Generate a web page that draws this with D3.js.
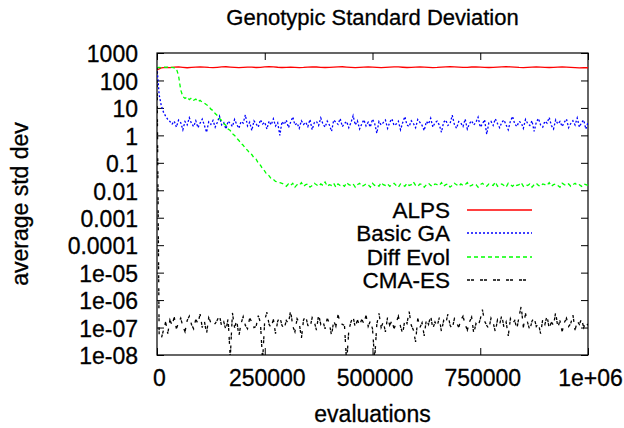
<!DOCTYPE html>
<meta charset="utf-8">
<style>
  body {
    margin: 0;
    background: #fff;
  }
  text {
    font-family: "Liberation Sans", Arial, sans-serif;
    fill: #000;
    stroke: #000;
    stroke-width: 0.3px;
  }
</style>
<body>
  <script src="https://d3js.org/d3.v7.min.js"></script>
  <div id="chart"></div>
  <script>
    // values, one per sample (equal spacing over 0..1e6 evaluations)
    const alps = [
      240, 285, 300, 295, 305, 310, 300, 290, 298, 305,
      312, 308, 300, 295, 302, 310, 315, 306, 298, 292,
      300, 308, 304, 296, 300, 310, 318, 312, 303, 297,
      301, 306, 300, 294, 299, 307, 313, 309, 302, 296,
      300, 305, 311, 316, 308, 300, 293, 298, 304, 309,
      305, 299, 295, 301, 308, 314, 310, 303, 297, 300,
      306, 312, 307, 300, 294, 298, 305, 311, 316, 312,
      304, 298, 302, 309, 313, 306, 300, 296, 301, 307,
      312, 318, 314, 306, 299, 295, 300, 306, 311, 308,
      302, 296, 300, 305, 310, 306, 298, 292, 288, 295,
      290
    ];

    const basicGA = [
      300, 30, 12, 7, 5, 3.8, 3.2,
      2.6, 3.3, 2.0, 3.6, 2.9, 1.6, 3.2, 2.4, 4.4, 2.7,
      2.1, 3.4, 1.9, 2.8, 3.9, 2.3, 1.3, 3.1, 2.5, 3.5,
      2.0, 3.0, 5.0, 2.4, 2.9, 1.7, 3.3, 2.7, 2.1, 3.8,
      2.5, 1.8, 3.2, 2.8, 5.6, 2.2, 3.0, 1.5, 3.4, 2.6,
      2.0, 3.7, 2.6, 3.0, 1.7, 3.3, 2.4, 4.0, 2.2, 2.9,
      1.0, 3.2, 2.5, 3.6, 1.9, 3.0, 4.7, 2.4, 2.8, 1.8,
      3.4, 2.5, 3.0, 2.1, 3.8, 1.6, 2.9, 3.2, 2.3, 4.3,
      2.6, 2.0, 3.3, 2.4, 1.4, 3.6, 3.0, 2.5, 4.1, 2.1,
      2.7, 3.2, 1.9, 2.9, 5.2, 2.4, 3.4, 1.7, 2.6, 3.7,
      2.2, 3.0, 2.0, 3.9, 2.7, 1.2, 3.2, 2.4, 2.9, 3.6,
      1.8, 3.0, 4.0, 2.3, 2.6, 3.3, 1.6, 2.9, 4.8, 2.4,
      2.1, 3.4, 2.7, 1.9, 3.8, 3.0, 2.3, 1.5, 3.2, 2.6,
      4.2, 2.0, 2.9, 3.3, 2.4, 1.3, 3.0, 3.6, 2.3, 2.7,
      5.4, 2.5, 1.8, 3.2, 2.8, 2.1, 3.9, 1.7, 2.7, 3.4,
      2.4, 3.0, 4.6, 2.0, 2.6, 3.7, 1.1, 2.9, 3.2, 2.3,
      4.0, 2.7, 1.9, 3.0, 3.6, 2.4, 1.6, 3.3, 4.9, 2.6,
      2.1, 3.2, 2.9, 1.8, 3.8, 2.7, 2.3, 3.4, 1.4, 3.0,
      4.1, 2.4, 2.0, 3.3, 2.8, 4.5, 2.3, 1.7, 3.7, 2.6,
      3.2, 2.1, 3.0, 3.9, 1.9, 2.7, 3.4, 2.4, 4.3, 2.0,
      2.9, 3.6, 1.7, 3.0
    ];

    const diffEvol = [
      290, 300, 295, 305, 298, 302, 296, 300, 288, 270,
      150, 45, 26, 22, 25, 20, 23, 19, 21, 17,
      19, 16, 15, 13, 11.5, 9, 8, 6.2, 5.3, 4.1,
      3.5, 2.7, 2.3, 1.7, 1.5, 1.15, 1.0, 0.78, 0.65, 0.5,
      0.44, 0.33, 0.29, 0.22, 0.2, 0.15, 0.135, 0.098, 0.082, 0.06,
      0.05, 0.037, 0.034, 0.026, 0.025, 0.021, 0.02, 0.019, 0.018,
      0.016, 0.014, 0.017, 0.015, 0.018, 0.013, 0.016, 0.015, 0.019, 0.014,
      0.016, 0.017, 0.013, 0.015, 0.018, 0.016, 0.014, 0.017, 0.015, 0.02,
      0.014, 0.016, 0.015, 0.018, 0.013, 0.017, 0.015, 0.016, 0.014, 0.019,
      0.016, 0.015, 0.017, 0.013, 0.016, 0.018, 0.014, 0.015, 0.017, 0.016,
      0.013, 0.018, 0.015, 0.016, 0.014, 0.019, 0.016, 0.015, 0.017, 0.014,
      0.016, 0.018, 0.015, 0.013, 0.017, 0.016, 0.014, 0.018, 0.015, 0.016,
      0.02, 0.015, 0.014, 0.017, 0.016, 0.013, 0.016, 0.018, 0.015, 0.014,
      0.017, 0.016, 0.015, 0.019, 0.014, 0.016, 0.017, 0.013, 0.015, 0.018,
      0.016, 0.014, 0.017, 0.015, 0.016, 0.019, 0.014, 0.015, 0.017, 0.016,
      0.013, 0.016, 0.018, 0.015, 0.014, 0.017, 0.016, 0.015, 0.02, 0.014,
      0.016, 0.017, 0.015, 0.013, 0.018, 0.016, 0.014, 0.017, 0.015, 0.016,
      0.019, 0.014, 0.016, 0.015, 0.017, 0.013, 0.016, 0.018, 0.015, 0.014,
      0.017, 0.016, 0.015, 0.019, 0.014, 0.016, 0.017, 0.015, 0.013, 0.018,
      0.016, 0.015, 0.017, 0.014, 0.016, 0.018, 0.015, 0.016, 0.014, 0.017,
      0.016, 0.015
    ];

    const cmaES = [
      300,
      5e-8, 4e-8, 8e-8, 1.6e-7, 6e-8, 1.9e-7, 1.2e-7, 2.4e-7, 9e-8, 1.5e-7,
      2.2e-7, 1.1e-7, 7e-8, 1.8e-7, 2.6e-7, 1.3e-7, 9e-8, 2.0e-7, 1.4e-7, 3.1e-7,
      1.0e-7, 1.7e-7, 6e-8, 2.3e-7, 1.5e-7, 1.2e-7, 1.4e-7, 1.9e-7, 2.8e-7, 1.1e-7,
      1.6e-7, 8e-8, 2.1e-7, 8e-9, 3.4e-7, 1.0e-7, 1.8e-7, 5e-8, 1.4e-7, 2.5e-7,
      1.2e-7, 9e-8, 2.2e-7, 1.6e-7, 1.0e-7, 1.1e-7, 2.7e-7, 1.5e-7, 6e-9, 1.9e-7,
      3.6e-7, 1.3e-7, 1.0e-7, 2.0e-7, 6e-8, 1.7e-7, 2.4e-7, 1.2e-7, 9e-8, 1.8e-7,
      1.4e-7, 4.2e-7, 1.1e-7, 7e-8, 2.1e-7, 1.5e-7, 4e-8, 1.9e-7, 2.6e-7, 1.2e-7,
      1.0e-7, 2.3e-7, 1.6e-7, 8e-8, 3.0e-7, 1.3e-7, 1.7e-7, 9e-8, 2.2e-7, 1.4e-7,
      5e-8, 1.8e-7, 1.1e-7, 2.9e-7, 1.5e-7, 1.3e-7, 1.2e-7, 5e-9, 8e-8, 1.6e-7,
      2.5e-7, 1.0e-7, 1.9e-7, 1.2e-7, 2.0e-7, 1.4e-7, 2.8e-7, 1.1e-7, 1.7e-7, 9e-8,
      7e-9, 1.3e-7, 3.3e-7, 1.0e-7, 1.6e-7, 7e-8, 2.4e-7, 1.2e-7, 1.8e-7, 9e-8,
      1.5e-7, 2.6e-7, 1.1e-7, 6e-8, 1.9e-7, 1.4e-7, 3.8e-7, 1.2e-7, 8e-8, 3e-8,
      2.2e-7, 1.0e-7, 1.5e-7, 5e-8, 2.0e-7, 1.3e-7, 2.7e-7, 9e-8, 1.6e-7, 1.1e-7,
      2.3e-7, 7e-8, 1.8e-7, 1.4e-7, 3.1e-7, 1.2e-7, 9e-8, 2.1e-7, 1.5e-7, 1.0e-7,
      1.9e-7, 2.6e-7, 1.3e-7, 8e-8, 1.6e-7, 2.4e-7, 6e-8, 1.4e-7, 1.1e-7, 2.0e-7,
      4.5e-7, 1.7e-7, 1.2e-7, 9e-8, 2.2e-7, 1.5e-7, 7e-8, 1.9e-7, 1.3e-7, 2.8e-7,
      1.0e-7, 1.6e-7, 5e-8, 2.1e-7, 1.4e-7, 1.8e-7, 9e-8, 2.5e-7, 6e-7, 1.0e-7,
      3.3e-7, 1.5e-7, 8e-8, 1.7e-7, 2.3e-7, 1.1e-7, 1.4e-7, 6e-8, 2.0e-7, 1.3e-7,
      2.7e-7, 9e-8, 1.6e-7, 1.2e-7, 3.6e-7, 1.0e-7, 1.8e-7, 7e-8, 1.5e-7, 2.2e-7,
      1.1e-7, 1.4e-7, 2.9e-7, 8e-8, 1.7e-7, 1.3e-7, 2.1e-7, 1.0e-7, 1.6e-7, 1.2e-7
    ];

    const seriesNames = ["ALPS", "Basic GA", "Diff Evol", "CMA-ES"];

    const xTickValues = [0, 250000, 500000, 750000, 1000000];
    const xTickLabels = ["0", "250000", "500000", "750000", "1e+06"];
    const yTickValues = [1000, 100, 10, 1, 0.1, 0.01, 0.001, 0.0001, 1e-5, 1e-6, 1e-7, 1e-8];
    const yTickLabels = ["1000", "100", "10", "1", "0.1", "0.01", "0.001", "0.0001",
                         "1e-05", "1e-06", "1e-07", "1e-08"];

    const width = 624;
    const height = 428;
    const plot = {left: 157, right: 588, top: 53, bottom: 355};
    const maxEval = 1000000;

    const styles = [
      {color: "#ff0000", dash: null},
      {color: "#0000ff", dash: "2,2"},
      {color: "#00ff00", dash: "4,3"},
      {color: "#000000", dash: "3,1,3,6"}
    ];

    const svg = d3.select("#chart")
      .append("svg")
      .attr("width", width)
      .attr("height", height);

    const x = d3.scaleLinear()
      .domain([0, maxEval])
      .range([plot.left, plot.right]);

    const y = d3.scaleLog()
      .domain([1e-8, 1000])
      .range([plot.bottom, plot.top]);

    svg.append("defs").append("clipPath")
      .attr("id", "clip")
      .append("rect")
      .attr("x", plot.left)
      .attr("y", plot.top)
      .attr("width", plot.right - plot.left)
      .attr("height", plot.bottom - plot.top);

    // axes, ticks drawn inward on all four sides like gnuplot
    const fmtX = d => xTickLabels[xTickValues.indexOf(d)];
    const fmtY = d => yTickLabels[yTickValues.indexOf(d)];

    const axisStyle = g => {
      g.select(".domain").remove();
      g.selectAll("line").attr("stroke", "#000").attr("stroke-width", 1);
      g.selectAll("text").style("font-size", "23px").attr("font-family", null);
    };

    svg.append("g")
      .attr("transform", `translate(0,${plot.bottom})`)
      .call(d3.axisBottom(x).tickValues(xTickValues).tickFormat(fmtX).tickSize(-7).tickPadding(15))
      .call(axisStyle)
      .selectAll("text").attr("dx", "2");

    svg.append("g")
      .attr("transform", `translate(0,${plot.top})`)
      .call(d3.axisTop(x).tickValues(xTickValues).tickFormat("").tickSize(-7))
      .call(axisStyle);

    svg.append("g")
      .attr("transform", `translate(${plot.left},0)`)
      .call(d3.axisLeft(y).tickValues(yTickValues).tickFormat(fmtY).tickSize(-7).tickPadding(19))
      .call(axisStyle)
      .selectAll("text")
      .attr("dy", "0.38em");

    svg.append("g")
      .attr("transform", `translate(${plot.right},0)`)
      .call(d3.axisRight(y).tickValues(yTickValues).tickFormat("").tickSize(-7))
      .call(axisStyle);

    svg.append("rect")
      .attr("x", plot.left)
      .attr("y", plot.top)
      .attr("width", plot.right - plot.left)
      .attr("height", plot.bottom - plot.top)
      .attr("fill", "none")
      .attr("stroke", "#000")
      .attr("stroke-width", 1.2);

    // series
    const allSeries = [alps, basicGA, diffEvol, cmaES];

    const line = d3.line()
      .x(d => x(d[0]))
      .y(d => y(d[1]));

    const lines = svg.append("g").attr("clip-path", "url(#clip)");

    allSeries.forEach((values, k) => {
      const pts = values.map((v, i) => [i * maxEval / (values.length - 1), v]);
      lines.append("path")
        .datum(pts)
        .attr("d", line)
        .attr("fill", "none")
        .attr("stroke", styles[k].color)
        .attr("stroke-width", 1.3)
        .attr("stroke-dasharray", styles[k].dash);
    });

    // legend
    const legend = svg.append("g");
    const legendY = [210, 233, 257, 280];

    seriesNames.forEach((name, k) => {
      legend.append("text")
        .attr("x", 450)
        .attr("y", legendY[k])
        .attr("dy", "0.36em")
        .attr("text-anchor", "end")
        .style("font-size", "22.5px")
        .text(name);
      legend.append("line")
        .attr("x1", 467)
        .attr("x2", 532)
        .attr("y1", legendY[k])
        .attr("y2", legendY[k])
        .attr("stroke", styles[k].color)
        .attr("stroke-width", 1.3)
        .attr("stroke-dasharray", styles[k].dash);
    });

    // titles
    svg.append("text")
      .attr("x", (plot.left + plot.right) / 2)
      .attr("y", 25)
      .attr("text-anchor", "middle")
      .style("font-size", "22px")
      .text("Genotypic Standard Deviation");

    svg.append("text")
      .attr("x", (plot.left + plot.right) / 2)
      .attr("y", 422)
      .attr("text-anchor", "middle")
      .style("font-size", "23px")
      .text("evaluations");

    svg.append("text")
      .attr("transform", `translate(28,${(plot.top + plot.bottom) / 2}) rotate(-90)`)
      .attr("text-anchor", "middle")
      .style("font-size", "23px")
      .text("average std dev");
  </script>
</body>
